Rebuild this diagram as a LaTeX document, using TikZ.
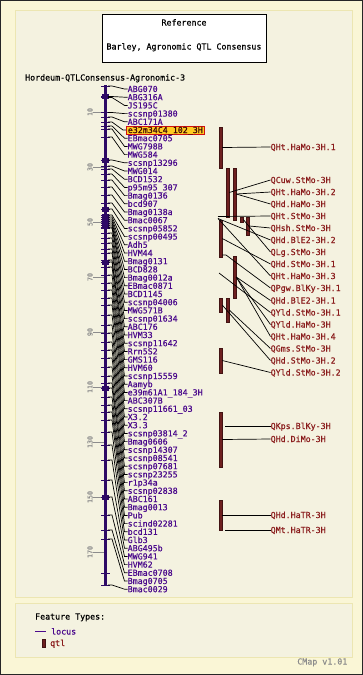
\documentclass[tikz,border=0pt]{standalone}
\usepackage{fontspec}
\newfontfamily\pix[FakeBold=0.5]{DejaVu Sans Mono}
\definecolor{bgout}{HTML}{FAF6D6}
\definecolor{bgin}{HTML}{F4F2E0}
\definecolor{panelb}{HTML}{ECE6B2}
\definecolor{loc}{HTML}{4B0A8C}
\definecolor{chromc}{HTML}{2E0A66}
\definecolor{qtlc}{HTML}{6E2020}
\definecolor{qtlt}{HTML}{8A1C1C}
\definecolor{scalec}{HTML}{8C8C8C}
\definecolor{hlfill}{HTML}{FFCC22}
\definecolor{hlline}{HTML}{D01010}
\tikzset{
  pixfont/.style={font=\pix\fontsize{8.3}{8.3}\selectfont},
  txt/.style={pixfont, inner sep=0pt, text height=6pt, text depth=0pt},
  loclbl/.style={txt, anchor=west, text=loc},
  hilite/.style={txt, anchor=west, text=black!70!hlline, fill=hlfill, draw=hlline, line width=0.7pt, inner xsep=1.5pt, inner ysep=1pt},
  qtllbl/.style={txt, anchor=west, text=qtlt},
  conn/.style={black, line width=0.7pt},
  featick/.style={chromc, line width=1pt},
  clump/.style={fill=chromc},
  qtlbar/.style={fill=qtlc, draw=qtlc!60!black, line width=0.4pt, minimum width=3.5pt, inner sep=0pt, outer sep=0pt, anchor=north},
  scalelbl/.style={font=\pix\fontsize{6.7}{6.7}\selectfont, text=scalec, rotate=90, inner sep=0pt},
}
\begin{document}
\begin{tikzpicture}[x=1pt,y=-1pt]
\useasboundingbox (0,0) rectangle (363,675);
\fill[bgout] (0,0) rectangle (363,675);
\draw[black!85, line width=1pt] (0.5,0.5) rectangle (362.5,674.5);
\filldraw[fill=bgin, draw=panelb, line width=0.8pt] (15.5,10.5) rectangle (352.5,597.5);
\filldraw[fill=bgin, draw=panelb, line width=0.8pt] (15.5,603.5) rectangle (352.5,657.5);

% title box
\node[draw=black, line width=1pt, fill=white, minimum width=164pt, minimum height=48pt, inner sep=0pt] (tbox) at (184,38) {};
\node[txt] (t1) at (184,22.5) {Reference};
\node[txt] (t2) at (184,46.5) {Barley, Agronomic QTL Consensus};
\node[txt, anchor=west] (mapname) at (25,77.5) {Hordeum-QTLConsensus-Agronomic-3};

% scale
\foreach \v in {10,30,...,170}{
  \pgfmathsetmacro\sy{84.5+2.75*\v}
  \draw[scalec, line width=0.6pt] (93,\sy) -- (104,\sy);
  \node[scalelbl] (s\v) at (90,\sy) {\v};
}

% clumps on chromosome
\foreach \cy in {96.5,160,209,262,388,497}{
  \fill[clump] (101.5,\cy-2.5) rectangle (108.5,\cy+2.5);
}
\fill[clump] (101.5,214) rectangle (108.5,229);

% loci
\foreach \i/\nm/\fy in {0/ABG070/86,1/ABG316A/96.5,2/JS195C/97.5,3/scsnp01380/112.5,4/ABC171A/117,5/e32m34C4\_102\_3H/122,6/EBmac0705/126,7/MWG798B/129,8/MWG584/137,9/scsnp13296/160,10/MWG014/166,11/BCD1532/169,12/p95m95\_307/174,13/Bmag0136/180,14/bcd907/187,15/Bmag0138a/195,16/Bmac0067/203,17/scsnp05852/209,18/scsnp00495/215,19/Adh5/217,20/HVM44/219,21/Bmag0131/221,22/BCD828/223,23/Bmag0012a/225,24/EBmac0871/227,25/BCD1145/228,26/scsnp04006/233,27/MWG571B/238,28/scsnp01634/243,29/ABC176/249,30/HVM33/253,31/scsnp11642/260,32/Rrn5S2/262,33/GMS116/267,34/HVM60/275,35/scsnp15559/283,36/Aamyb/290,37/e39m61A1\_184\_3H/298,38/ABC307B/305,39/scsnp11661\_03/315,40/X3.2/325,41/X3.3/333,42/scsnp03814\_2/342,43/Bmag0606/350,44/scsnp14307/358,45/scsnp08541/367,46/scsnp07681/376,47/scsnp23255/383,48/r1p34a/388,49/scsnp02838/397,50/ABC161/405,51/Bmag0013/412,52/Pub/420,53/scind02281/432,54/bcd131/445,55/Glb3/460,56/ABG495b/480,57/MWG941/497,58/HVM62/515,59/EBmac0708/530,60/Bmag0705/539,61/Bmac0029/585}{
  \pgfmathsetmacro\ly{89+8.2*\i}
  \coordinate (F\i) at (108,\fy);
  \draw[featick] (101,\fy) -- (110,\fy);
  \ifnum\i=5
    \node[hilite] (L\i) at (126,\ly) {\nm};
  \else
    \node[loclbl] (L\i) at (127.5,\ly) {\nm};
  \fi
  \draw[conn] (F\i) -- ++(4,0) -- ([xshift=-3pt]L\i.west) -- (L\i.west);
}
\draw[featick] (101,573) -- (110,573);

% chromosome
\draw[chromc, line width=3pt] (105.5,85) -- (105.5,585);

% QTL bars
\node[qtlbar, minimum height=41pt] (QA) at (220.5,127) {};
\node[qtlbar, minimum height=49pt] (QB) at (227.5,168) {};
\node[qtlbar, minimum height=52pt] (QC) at (234.5,168) {};
\node[qtlbar, minimum height=5pt]  (QD) at (241.5,217) {};
\node[qtlbar, minimum height=18pt] (QE) at (247.7,217) {};
\node[qtlbar, minimum height=37pt] (QF) at (220.5,220) {};
\node[qtlbar, minimum height=42pt] (QG) at (234.5,256) {};
\node[qtlbar, minimum height=14pt] (QH) at (220.5,298) {};
\node[qtlbar, minimum height=24pt] (QI) at (227.5,298) {};
\node[qtlbar, minimum height=25pt] (QJ) at (220.5,348) {};
\node[qtlbar, minimum height=55pt] (QK) at (220.5,412) {};
\node[qtlbar, minimum height=30pt] (QL) at (220.5,500) {};

% free connector ends
\coordinate (P1) at (218,216.5);
\coordinate (P2) at (218,218.5);
\coordinate (P3) at (222,255);
\coordinate (P4) at (219,273);
\coordinate (P5) at (225,426);
\coordinate (P6) at (225,530);

% QTL labels
\foreach \k/\nm/\ty in {1/QHt.HaMo-3H.1/147,2/QCuw.StMo-3H/180,3/QHt.HaMo-3H.2/192,4/QHd.HaMo-3H/204,5/QHt.StMo-3H/216,6/QHsh.StMo-3H/228,7/QHd.BlE2-3H.2/240,8/QLg.StMo-3H/252,9/QHd.StMo-3H.1/264,10/QHt.HaMo-3H.3/276,11/QPgw.BlKy-3H.1/288,12/QHd.BlE2-3H.1/300.5,13/QYld.StMo-3H.1/312.5,14/QYld.HaMo-3H/324.5,15/QHt.HaMo-3H.4/336.5,16/QGms.StMo-3H/348.5,17/QHd.StMo-3H.2/360.5,18/QYld.StMo-3H.2/372.5,19/QKps.BlKy-3H/426,20/QHd.DiMo-3H/439,21/QHd.HaTR-3H/515,22/QMt.HaTR-3H/530}{
  \node[qtllbl] (T\k) at (270.5,\ty) {\nm};
}

\draw[conn] (QA.east) -- (T1.west);
\draw[conn] (QB.east) -- (T2.west);
\draw[conn] (QC.east) -- (T3.west);
\draw[conn] (QC.east) -- (T4.west);
\draw[conn] (P1) -- (T5.west);
\draw[conn] (QE.east) -- (T6.west);
\draw[conn] (P2) -- (T7.west);
\draw[conn] (QD.east) -- (T8.west);
\draw[conn] (QF.east) -- (T9.west);
\draw[conn] (P2) -- (T10.west);
\draw[conn] (P3) -- ++(4,0) -- (T11.west);
\draw[conn] (QG.east) -- (T12.west);
\draw[conn] (P4) -- (T13.west);
\draw[conn] (QG.east) -- (T14.west);
\draw[conn] (QG.east) -- (T15.west);
\draw[conn] (QI.east) -- (T16.west);
\draw[conn] (QH.east) -- (T17.west);
\draw[conn] (QJ.east) -- (T18.west);
\draw[conn] (P5) -- (T19.west);
\draw[conn] (QK.east) -- (T20.west);
\draw[conn] (QL.east) -- (T21.west);
\draw[conn] (P6) -- (T22.west);

% legend
\node[txt, anchor=west] (ft) at (35,616.5) {Feature Types:};
\coordinate (lg1) at (35,631.5);
\node[loclbl] (lgl) at (51,631.5) {locus};
\draw[loc, line width=0.8pt] (lg1) -- ([xshift=-5pt]lgl.west);
\node[qtlbar, minimum width=3pt, minimum height=8pt] (lgq) at (44,639) {};
\node[qtllbl] (lgqt) at (50,643) {qtl};
\node[txt, anchor=east, text=scalec] (ver) at (347.5,661.5) {CMap v1.01};
\end{tikzpicture}
\end{document}
